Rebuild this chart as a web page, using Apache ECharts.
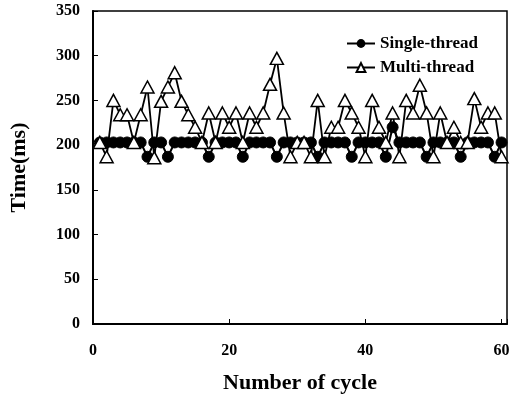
<!DOCTYPE html>
<html>
<head>
<meta charset="utf-8">
<script src="https://cdn.jsdelivr.net/npm/echarts@6/dist/echarts.min.js"></script>
<style>
  html, body { margin: 0; padding: 0; background: #fff; }
  #chart { width: 523px; height: 406px; }
</style>
</head>
<body>
<div id="chart"></div>
<script>
const cycles = [];
for (let i = 1; i <= 60; i++) cycles.push(i);

const singleThread = [
  203, 203, 203, 203, 203, 203, 203, 187, 203, 203,
  187, 203, 203, 203, 203, 203, 187, 203, 203, 203,
  203, 187, 203, 203, 203, 203, 187, 203, 203, 203,
  203, 203, 187, 203, 203, 203, 203, 187, 203, 203,
  203, 203, 187, 220, 203, 203, 203, 203, 187, 203,
  203, 203, 203, 187, 203, 203, 203, 203, 187, 203
];

const multiThread = [
  203, 187, 250, 234, 234, 203, 234, 265, 186, 249,
  265, 281, 249, 234, 220, 203, 236, 203, 236, 220,
  236, 203, 236, 220, 236, 268, 297, 236, 187, 203,
  203, 187, 250, 187, 220, 220, 250, 236, 220, 187,
  250, 220, 203, 236, 187, 250, 236, 267, 236, 187,
  236, 203, 220, 203, 203, 252, 220, 236, 236, 187
];

const yTicks = [0, 50, 100, 150, 200, 250, 300, 350];
const xTicks = [0, 20, 40, 60];

const font = 'Liberation Serif';
const chart = echarts.init(document.getElementById('chart'));

chart.setOption({
  animation: false,
  backgroundColor: '#fff',
  grid: {
    left: 93, right: 16, top: 11, bottom: 82,
    show: true, borderColor: '#000', borderWidth: 1.5
  },
  legend: {
    orient: 'vertical',
    left: 341, top: 30,
    itemWidth: 28, itemHeight: 11, itemGap: 7,
    textStyle: { fontFamily: font, fontWeight: 'bold', fontSize: 17, color: '#000' },
    data: ['Single-thread', 'Multi-thread']
  },
  xAxis: {
    type: 'value',
    min: 0, max: 60.8, interval: 20,
    name: 'Number of cycle',
    nameLocation: 'middle', nameGap: 48,
    nameTextStyle: { fontFamily: font, fontWeight: 'bold', fontSize: 22, color: '#000' },
    axisLine: { lineStyle: { color: '#000', width: 2 } },
    axisTick: { inside: true, length: 5, lineStyle: { color: '#000', width: 1 } },
    axisLabel: {
      margin: 19,
      fontFamily: font, fontWeight: 'bold', fontSize: 16, color: '#000',
      formatter: v => xTicks.includes(v) ? String(v) : ''
    },
    splitLine: { show: false }
  },
  yAxis: {
    type: 'value',
    min: 0, max: 350, interval: 50,
    name: 'Time(ms)',
    nameLocation: 'middle', nameGap: 63,
    nameTextStyle: { fontFamily: font, fontWeight: 'bold', fontSize: 22, color: '#000' },
    axisLine: { lineStyle: { color: '#000', width: 2 } },
    axisTick: { inside: true, length: 5, lineStyle: { color: '#000', width: 1 } },
    axisLabel: {
      margin: 13,
      fontFamily: font, fontWeight: 'bold', fontSize: 16, color: '#000',
      formatter: v => yTicks.includes(v) ? String(v) : ''
    },
    splitLine: { show: false }
  },
  series: [
    {
      name: 'Single-thread',
      type: 'line',
      data: cycles.map((c, i) => [c, singleThread[i]]),
      symbol: 'circle',
      symbolSize: 11,
      itemStyle: { color: '#000', borderColor: '#000' },
      lineStyle: { color: '#000', width: 2 },
      z: 2
    },
    {
      name: 'Multi-thread',
      type: 'line',
      data: cycles.map((c, i) => [c, multiThread[i]]),
      symbol: 'triangle',
      symbolSize: [13, 12],
      itemStyle: { color: '#fff', borderColor: '#000', borderWidth: 1.5 },
      lineStyle: { color: '#000', width: 1.8 },
      z: 3
    }
  ]
});
</script>
</body>
</html>
